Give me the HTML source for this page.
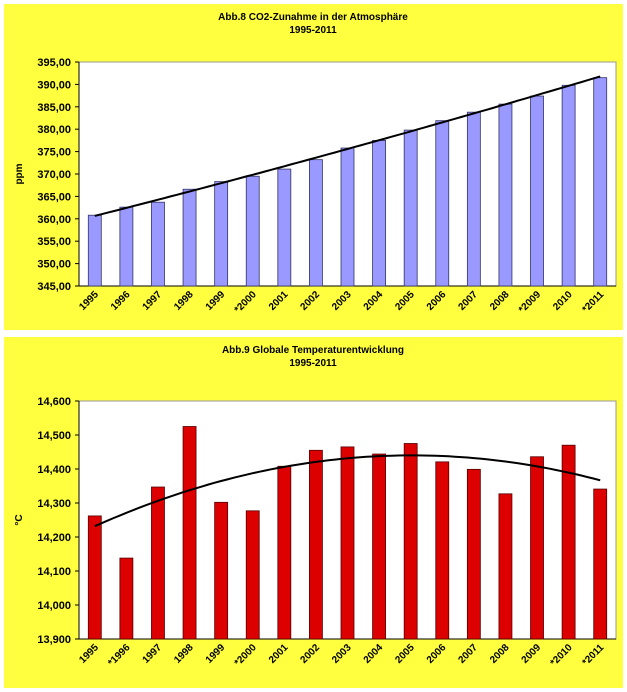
<!DOCTYPE html>
<html><head><meta charset="utf-8"><style>
body{margin:0;background:#fff;}
svg{display:block;font-family:"Liberation Sans",Arial,sans-serif;}
</style></head><body>
<svg id="s" width="627" height="692" xmlns="http://www.w3.org/2000/svg"></svg>
<script>
const years1=["1995","1996","1997","1998","1999","*2000","2001","2002","2003","2004","2005","2006","2007","2008","*2009","2010","*2011"];
const co2=[360.8,362.6,363.7,366.6,368.3,369.5,371.1,373.2,375.8,377.5,379.8,381.9,383.8,385.6,387.4,389.8,391.5];
const co2Ticks=[345,350,355,360,365,370,375,380,385,390,395];
const years2=["1995","*1996","1997","1998","1999","*2000","2001","2002","2003","2004","2005","2006","2007","2008","2009","*2010","*2011"];
const temp=[14.262,14.138,14.347,14.525,14.302,14.277,14.408,14.455,14.465,14.444,14.475,14.421,14.399,14.327,14.436,14.470,14.341];
const tempTicks=[13.9,14.0,14.1,14.2,14.3,14.4,14.5,14.6];

const NS="http://www.w3.org/2000/svg";
const svg=document.getElementById('s');
function mk(tag,attrs,parent){const e=document.createElementNS(NS,tag);for(const k in attrs)e.setAttribute(k,attrs[k]);(parent||svg).appendChild(e);return e;}
function quadFit(ys){let n=ys.length,S=[0,0,0,0,0],T=[0,0,0];for(let i=0;i<n;i++){let x=i;for(let p=0;p<5;p++)S[p]+=Math.pow(x,p);for(let p=0;p<3;p++)T[p]+=ys[i]*Math.pow(x,p);}
 const A=[[S[0],S[1],S[2],T[0]],[S[1],S[2],S[3],T[1]],[S[2],S[3],S[4],T[2]]];
 for(let i=0;i<3;i++){for(let j=i+1;j<3;j++){const f=A[j][i]/A[i][i];for(let k=i;k<4;k++)A[j][k]-=f*A[i][k];}}
 const c=[0,0,0];for(let i=2;i>=0;i--){let s=A[i][3];for(let k=i+1;k<3;k++)s-=A[i][k]*c[k];c[i]=s/A[i][i];}return x=>c[0]+c[1]*x+c[2]*x*x;}

function chart(o){
 const g=mk('g',{});
 
 
 const bg=mk('rect',{x:4,y:o.py,width:619,height:o.ph,fill:'#ffff40'},g);
 
 const t1=mk('text',{x:313,y:o.py+16,'text-anchor':'middle','font-size':10,'font-weight':'bold'},g);t1.textContent=o.title;
 
 const t2=mk('text',{x:313,y:o.py+29,'text-anchor':'middle','font-size':10,'font-weight':'bold'},g);t2.textContent='1995-2011';
 
 const L=79,R=616,T=o.top,B=o.bot;
 const ymin=o.ticks[0],ymax=o.ticks[o.ticks.length-1];
 const y=v=>B-(v-ymin)/(ymax-ymin)*(B-T);
 const cw=(R-L)/o.cats.length;const x=i=>L+cw*(i+0.5);
 const pa=mk('rect',{x:L,y:T,width:R-L,height:B-T,fill:'#fff',stroke:'#999','stroke-width':1},g);
 
 mk('line',{x1:L,y1:T,x2:L,y2:B,stroke:'#000'},g);
 mk('line',{x1:L,y1:B,x2:R,y2:B,stroke:'#000'},g);
 o.ticks.forEach(v=>{
  mk('line',{x1:L-4,y1:y(v),x2:L,y2:y(v),stroke:'#000'},g);
  const t=mk('text',{x:L-8,y:y(v)+4,'text-anchor':'end','font-size':11,'font-weight':'bold'},g);
  t.textContent=v.toFixed(o.dec).replace('.',',');
  
 });
 const yl=mk('text',{x:0,y:0,'text-anchor':'middle','font-size':10,'font-weight':'bold',transform:`translate(${o.py<100?22:22},${(T+B)/2}) rotate(-90)`},g);
 yl.textContent=o.ylabel;
 o.vals.forEach((v,i)=>{
  const b=mk('rect',{x:x(i)-6.5,y:y(v),width:13,height:B-y(v),fill:o.color,stroke:o.stroke,'stroke-width':0.8},g);
  
  const lt=mk('text',{x:0,y:0,'text-anchor':'end','font-size':10,'font-weight':'bold',transform:`translate(${x(i)+4},${B+9}) rotate(-45)`},g);
  lt.textContent=o.cats[i];
 });
 const f=quadFit(o.vals);let d='';
 for(let k=0;k<=80;k++){const xi=k/80*(o.vals.length-1);d+=(k?'L':'M')+x(xi).toFixed(1)+','+y(f(xi)).toFixed(1);}
 const tl=mk('path',{d:d,fill:'none',stroke:'#000','stroke-width':2},g);
 
}
chart({name:'co2-chart',py:4,ph:326,title:'Abb.8 CO2-Zunahme in der Atmosphäre',top:62,bot:286,ticks:co2Ticks,dec:2,vals:co2,cats:years1,color:'#9999ff',stroke:'#333366',ylabel:'ppm'});
chart({name:'temperature-chart',py:337,ph:351,title:'Abb.9 Globale Temperaturentwicklung',top:401,bot:639,ticks:tempTicks,dec:3,vals:temp,cats:years2,color:'#dd0000',stroke:'#550000',ylabel:'°C'});
</script>
</body></html>
